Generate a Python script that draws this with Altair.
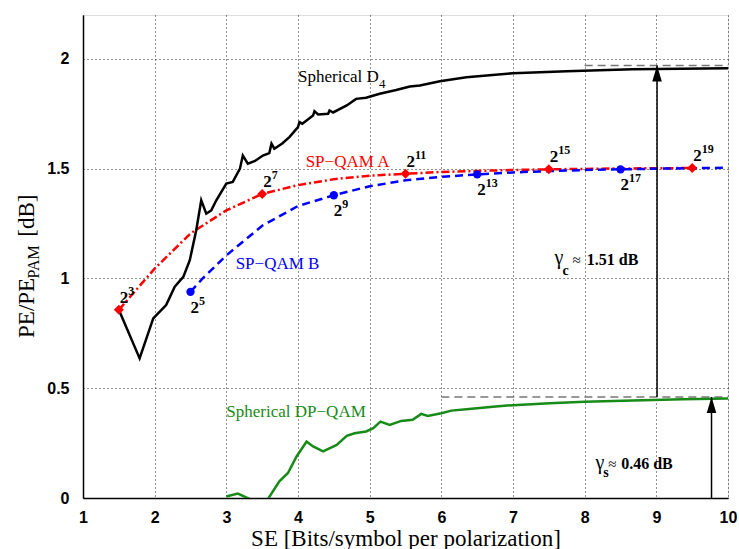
import altair as alt
import pandas as pd

# ---------------- data ----------------
d4_x = [1.5, 1.79, 1.98, 2.16, 2.28, 2.40, 2.49, 2.58, 2.65, 2.72, 2.79, 2.86, 3.0, 3.09,
        3.19, 3.23, 3.30, 3.40, 3.51, 3.60, 3.63, 3.67, 3.78, 3.88, 4.0, 4.02, 4.06, 4.21,
        4.23, 4.28, 4.42, 4.44, 4.49, 4.68, 4.81, 4.95, 5.14, 5.37, 5.56, 5.70, 5.98, 6.35,
        7.0, 7.75, 8.67, 10.0]
d4_y = [0.857, 0.636, 0.818, 0.879, 0.962, 1.007, 1.083, 1.22, 1.356, 1.295, 1.31, 1.356,
        1.432, 1.44, 1.50, 1.56, 1.523, 1.535, 1.56, 1.571, 1.614, 1.591, 1.615, 1.644,
        1.689, 1.712, 1.705, 1.742, 1.762, 1.747, 1.75, 1.765, 1.756, 1.788, 1.818, 1.823,
        1.841, 1.858, 1.874, 1.879, 1.898, 1.916, 1.935, 1.944, 1.953, 1.957]

qam_a_x = [1.5, 2.0, 2.5, 3.0, 3.5, 4.0, 4.5, 5.0, 5.5, 6.0, 6.5, 7.0, 7.5, 8.0, 8.5, 9.0, 9.5]
qam_a_y = [0.857, 1.045, 1.205, 1.31, 1.385, 1.425, 1.452, 1.468, 1.477, 1.485, 1.49,
           1.494, 1.497, 1.499, 1.501, 1.502, 1.503]

qam_b_x = [2.5, 2.67, 3.0, 3.5, 4.0, 4.5, 5.0, 5.5, 6.0, 6.5, 7.0, 7.5, 8.0, 8.5, 9.0, 9.5, 10.0]
qam_b_y = [0.939, 1.0, 1.105, 1.24, 1.33, 1.379, 1.42, 1.447, 1.463, 1.474, 1.483, 1.489,
           1.494, 1.497, 1.5, 1.502, 1.504]

dp_x = [3.0, 3.16, 3.33, 3.45, 3.58, 3.74, 3.86, 3.98, 4.12, 4.21, 4.35, 4.54, 4.68, 4.79,
        4.95, 5.05, 5.15, 5.28, 5.44, 5.6, 5.72, 5.81, 6.0, 6.14, 6.35, 6.72, 7.0, 7.51,
        8.0, 8.67, 9.37, 10.0]
dp_y = [0.007, 0.02, -0.005, -0.02, -0.005, 0.076, 0.114, 0.189, 0.257, 0.235, 0.212,
        0.242, 0.283, 0.295, 0.303, 0.318, 0.348, 0.333, 0.351, 0.356, 0.383, 0.374, 0.386,
        0.398, 0.404, 0.416, 0.423, 0.432, 0.438, 0.444, 0.45, 0.453]

a_mark_x = [1.5, 3.5, 5.5, 7.5, 9.5]
a_mark_y = [0.857, 1.385, 1.477, 1.497, 1.503]
a_mark_exp = ["3", "7", "11", "15", "19"]
b_mark_x = [2.5, 4.5, 6.5, 8.5]
b_mark_y = [0.939, 1.379, 1.474, 1.497]
b_mark_exp = ["5", "9", "13", "17"]

ref_x = [8.0, 6.0]
ref_x2 = [10.0, 10.0]
ref_y = [1.97, 0.46]
arrow_x = [9.01, 9.77]
arrow_y = [0.46, 0.0]
arrow_y2 = [1.97, 0.46]

x_ticks = [1, 2, 3, 4, 5, 6, 7, 8, 9, 10]
y_ticks = [0, 0.5, 1, 1.5, 2]

series_names = ["Spherical D4", "SP-QAM A", "SP-QAM B", "Spherical DP-QAM"]
series_colors = ["#000000", "#ff0000", "#0000ff", "#178a17"]
label_text = ["Spherical D", "SP\u2212QAM A", "SP\u2212QAM B", "Spherical DP\u2212QAM"]
label_x = [4.0, 4.107, 3.13, 3.0]
label_y = [1.894, 1.507, 1.045, 0.368]
d4_sub_text = ["4"]
d4_sub_x = [5.13]
d4_sub_y = [1.868]

gamma_text = ["\u03b3", "\u03b3"]
gamma_x = [7.58, 8.15]
gamma_y = [1.065, 0.133]
gamma_sub = ["c", "s"]
gamma_sub_x = [7.69, 8.26]
gamma_sub_y = [1.015, 0.097]
approx_text = ["\u2248", "\u2248"]
approx_x = [7.83, 8.33]
approx_y = [1.06, 0.133]
gain_text = ["1.51 dB", "0.46 dB"]
gain_x = [8.03, 8.51]
gain_y = [1.06, 0.133]

ytitle_main = ["PE/PE", "[dB]"]
ytitle_main_x = [0.312, 0.312]
ytitle_main_y = [0.729, 1.19]
ytitle_sub = ["PAM"]
ytitle_sub_x = [0.385]
ytitle_sub_y = [1.0]

# ---------------- scales / axes ----------------
xscale = alt.Scale(domain=[1, 10], nice=False, zero=False)
yscale = alt.Scale(domain=[0, 2.2], nice=False, zero=False)
common_axis = dict(grid=True, gridDash=[1, 3], gridColor="#222222", gridWidth=1,
                   labelFont="Liberation Sans", labelFontWeight="bold", labelFontSize=16,
                   labelColor="black", tickSize=0, domainColor="black", domainWidth=1.5,
                   labelFlush=False, labelOverlap=False,
                   titleFont="Liberation Serif", titleFontSize=23, titleFontWeight="normal",
                   titleColor="black")
xaxis = alt.Axis(values=x_ticks, format="d", labelPadding=11, titlePadding=2, **common_axis)
yaxis = alt.Axis(values=y_ticks, format="~r", labelPadding=14, **common_axis)

XE = alt.X("x:Q", scale=xscale, axis=xaxis, title="SE [Bits/symbol per polarization]")
YE = alt.Y("y:Q", scale=yscale, axis=yaxis, title="")
CE = alt.Color("s:N", scale=alt.Scale(domain=series_names, range=series_colors), legend=None)


def df(x, y, **cols):
    d = pd.DataFrame({"x": x, "y": y})
    for k, v in cols.items():
        d[k] = v
    return d


def text_layer(data, **kw):
    base = dict(font="Liberation Serif", align="left", baseline="alphabetic")
    base.update(kw)
    enc = dict(x=XE, y=YE, text="t:N")
    if "s" in data.columns:
        enc["color"] = CE
    return alt.Chart(data).mark_text(**base).encode(**enc)


# ---------------- layers ----------------
refs = alt.Chart(pd.DataFrame({"x": ref_x, "x2": ref_x2, "y": ref_y})).mark_rule(
    color="#777777", strokeDash=[8, 5], strokeWidth=1.5
).encode(x=XE, x2="x2:Q", y=YE)

lines = []
for xs, ys, name, dash in [
    (dp_x, dp_y, series_names[3], None),
    (qam_a_x, qam_a_y, series_names[1], [8, 3, 2, 3]),
    (qam_b_x, qam_b_y, series_names[2], [8, 5]),
    (d4_x, d4_y, series_names[0], None),
]:
    kw = dict(strokeWidth=2.5, clip=True)
    if dash:
        kw["strokeDash"] = dash
    lines.append(alt.Chart(df(xs, ys, s=name)).mark_line(**kw).encode(x=XE, y=YE, color=CE))

a_df = df(a_mark_x, a_mark_y, s=series_names[1], e=a_mark_exp)
b_df = df(b_mark_x, b_mark_y, s=series_names[2], e=b_mark_exp)

a_pts = alt.Chart(a_df).mark_point(shape="diamond", filled=True, size=100, opacity=1).encode(
    x=XE, y=YE, color=CE)
b_pts = alt.Chart(b_df).mark_circle(size=70, opacity=1).encode(x=XE, y=YE, color=CE)

arrows = alt.Chart(pd.DataFrame({"x": arrow_x, "y": arrow_y, "y2": arrow_y2})).mark_rule(
    color="black", strokeWidth=1.5).encode(x=XE, y=YE, y2="y2:Q")
heads = alt.Chart(pd.DataFrame({"x": arrow_x, "y": arrow_y2})).mark_point(
    shape="M0,0L0.6,2L-0.6,2Z", filled=True, size=256, color="black", opacity=1
).encode(x=XE, y=YE)


# exponent labels 2^n
def exp_layers(d, dx, dy):
    base = alt.Chart(d.assign(t="2")).mark_text(
        font="Liberation Serif", fontWeight="bold", fontSize=17, align="left",
        baseline="alphabetic", dx=dx, dy=dy, color="black").encode(x=XE, y=YE, text="t:N")
    sup = alt.Chart(d).mark_text(
        font="Liberation Serif", fontWeight="bold", fontSize=12, align="left",
        baseline="alphabetic", dx=dx + 8.5, dy=dy - 8, color="black").encode(x=XE, y=YE, text="e:N")
    return [base, sup]


labels = text_layer(df(label_x, label_y, t=label_text, s=series_names), fontSize=17)
d4_sub = text_layer(df(d4_sub_x, d4_sub_y, t=d4_sub_text), fontSize=13, color="black")
gam = text_layer(df(gamma_x, gamma_y, t=gamma_text), fontSize=20, color="black")
gam_sub = text_layer(df(gamma_sub_x, gamma_sub_y, t=gamma_sub), fontSize=14,
                     fontWeight="bold", color="black")
approx = text_layer(df(approx_x, approx_y, t=approx_text), fontSize=15, color="black")
gain = text_layer(df(gain_x, gain_y, t=gain_text), fontSize=16, fontWeight="bold", color="black")
yt_main = text_layer(df(ytitle_main_x, ytitle_main_y, t=ytitle_main), fontSize=23,
                     angle=270, color="black")
yt_sub = text_layer(df(ytitle_sub_x, ytitle_sub_y, t=ytitle_sub), fontSize=16,
                    angle=270, color="black")

chart = alt.layer(
    refs, *lines, a_pts, b_pts, arrows, heads,
    *exp_layers(a_df, 1, -7), *exp_layers(b_df, 0, 21),
    labels, d4_sub, gam, gam_sub, approx, gain, yt_main, yt_sub,
).properties(
    width=645, height=483,
    padding={"left": 83, "top": 15, "right": 11, "bottom": 51},
    autosize=alt.AutoSizeParams(type="none"),
).configure_view(stroke="black", strokeWidth=1.5).configure(background="white")

chart.save("out.html", embed_options={"renderer": "svg", "actions": False})
